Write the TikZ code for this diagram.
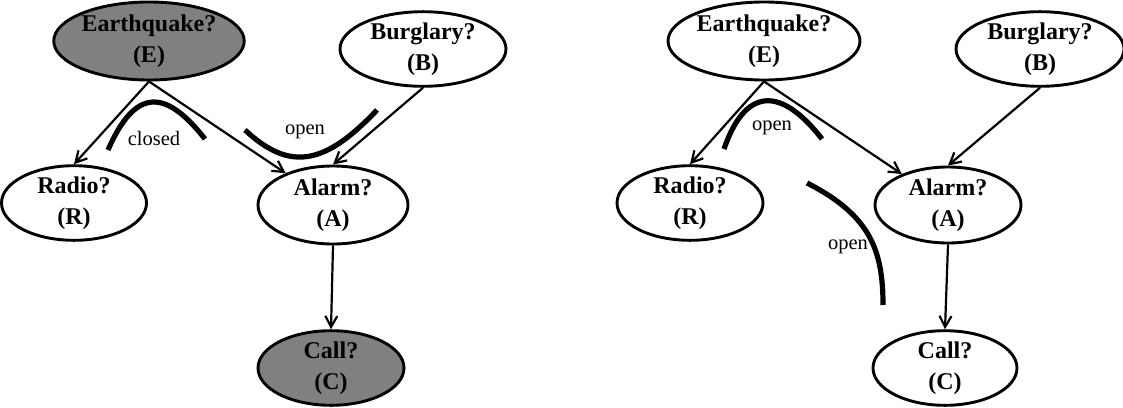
\documentclass[tikz,border=0pt]{standalone}
\usepackage{fontspec}
\setmainfont{Liberation Serif}
\usetikzlibrary{shapes.geometric,arrows.meta}

\tikzset{
  var/.style={ellipse, draw=black, line width=2.9pt, fill=white, inner sep=0pt,
    align=center, font=\bfseries\fontsize{24}{31}\selectfont},
  observed/.style={var, fill=black!50},
  link/.style={line width=2.2pt, -{Straight Barb[length=11pt,width=12pt,line width=2.2pt]}},
  path mark/.style={line width=5.2pt},
  tag/.style={font=\fontsize{20.5}{24}\selectfont, inner sep=0pt}
}

\begin{document}
\begin{tikzpicture}[x=1pt, y=-1pt]
  \useasboundingbox (0,0) rectangle (1123,407);

  % ---- left network: E and C observed ----
  \node[observed, minimum width=190pt, minimum height=78pt] (E1) at (149,41) {Earthquake?\\(E)};
  \node[var, minimum width=166pt, minimum height=74pt] (B1) at (423,49) {Burglary?\\(B)};
  \node[var, minimum width=145pt, minimum height=73pt] (R1) at (74,203) {Radio?\\(R)};
  \node[var, minimum width=150pt, minimum height=78pt] (A1) at (333,205) {Alarm?\\(A)};
  \node[observed, minimum width=146pt, minimum height=72pt] (C1) at (331,368) {Call?\\(C)};

  \draw[link] (E1.south) -- (R1.north);
  \draw[link] (E1.south) -- (A1);
  \draw[link] (B1.south) -- (A1.north);
  \draw[link] (A1.south) -- (C1.north);

  \draw[path mark] (108,150) .. controls (135,88) and (165,88) .. (205,139);
  \node[tag] (closed1) at (154,138) {closed};
  \draw[path mark] (245,130) .. controls (290,172) and (325,165) .. (377,110);
  \node[tag] (open1) at (305,132) {open};

  % ---- right network: nothing observed ----
  \node[var, minimum width=192pt, minimum height=78pt] (E2) at (764,41) {Earthquake?\\(E)};
  \node[var, minimum width=168pt, minimum height=74pt] (B2) at (1040,49) {Burglary?\\(B)};
  \node[var, minimum width=146pt, minimum height=73pt] (R2) at (690,203) {Radio?\\(R)};
  \node[var, minimum width=146pt, minimum height=76pt] (A2) at (948,205) {Alarm?\\(A)};
  \node[var, minimum width=144pt, minimum height=72pt] (C2) at (945,368) {Call?\\(C)};

  \draw[link] (E2.south) -- (R2.north);
  \draw[link] (E2.south) -- (A2);
  \draw[link] (B2.south) -- (A2.north);
  \draw[link] (A2.south) -- (C2.north);

  \draw[path mark] (724,149) .. controls (745,88) and (780,85) .. (822,139);
  \node[tag] (open2) at (772,128) {open};
  \draw[path mark] (807,183) .. controls (870,215) and (883,250) .. (883,305);
  \node[tag] (open3) at (848,247) {open};
\end{tikzpicture}
\end{document}
